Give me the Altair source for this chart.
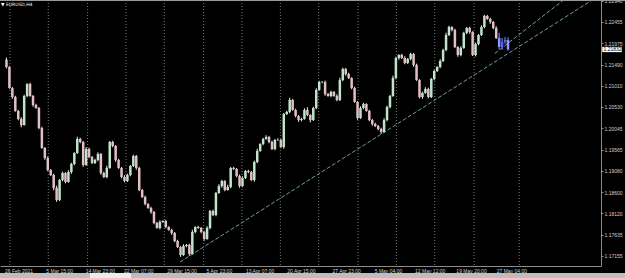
import altair as alt
import pandas as pd

SYMBOL = "\u25bc EURUSD,H4"

first_open = 1.21600
close = [
    1.21435, 1.20960, 1.20756, 1.20439, 1.20258, 1.20122, 1.20779, 1.21050, 1.20779, 1.20575,
    1.20507, 1.20054, 1.19601, 1.19374, 1.19103, 1.18989, 1.18695, 1.18423, 1.18876, 1.19035,
    1.18831, 1.19057, 1.19238, 1.19487, 1.19805, 1.19737, 1.19216, 1.19578, 1.19397, 1.19261,
    1.19329, 1.19465, 1.19035, 1.18944, 1.19148, 1.19737, 1.19646, 1.19329, 1.19148, 1.18944,
    1.18853, 1.18989, 1.19193, 1.19420, 1.19148, 1.18650, 1.18491, 1.18332, 1.18242, 1.18151,
    1.17902, 1.17789, 1.17925, 1.17947, 1.17811, 1.17744, 1.17676, 1.17494, 1.17358, 1.17177,
    1.17381, 1.17404, 1.17200, 1.17698, 1.17811, 1.17789, 1.17698, 1.17540, 1.17789, 1.18174,
    1.18083, 1.18582, 1.18740, 1.18853, 1.18650, 1.18717, 1.19148, 1.19125, 1.18967, 1.18740,
    1.18921, 1.19080, 1.19057, 1.18876, 1.19284, 1.19533, 1.19691, 1.19805, 1.19850, 1.19737,
    1.19578, 1.19782, 1.19782, 1.19623, 1.20371, 1.20416, 1.20688, 1.20462, 1.20326, 1.20235,
    1.20258, 1.20462, 1.20348, 1.20235, 1.20507, 1.20915, 1.21096, 1.21096, 1.20824, 1.20779,
    1.20869, 1.20779, 1.20688, 1.21141, 1.21390, 1.21277, 1.21186, 1.20960, 1.20643, 1.20280,
    1.20507, 1.20597, 1.20439, 1.20235, 1.20144, 1.20099, 1.20031, 1.19963, 1.20235, 1.20529,
    1.20779, 1.21186, 1.21639, 1.21707, 1.21639, 1.21526, 1.21617, 1.21730, 1.21481, 1.21141,
    1.20756, 1.20847, 1.20937, 1.20756, 1.21164, 1.21345, 1.21435, 1.21571, 1.21821, 1.22160,
    1.22341, 1.22274, 1.21888, 1.21707, 1.21866, 1.22206, 1.22319, 1.22228, 1.21707, 1.21956,
    1.22160, 1.22341, 1.22591, 1.22523, 1.22455, 1.22319, 1.22092, 1.21888, 1.22002, 1.22047,
    1.21832,
]
wick_up_pips = [
    5, 3, 2, 3, 2, 4, 3, 2, 3, 2,
    3, 2, 3, 2, 4, 2, 3, 5, 2, 3,
    2, 4, 3, 2, 5, 3, 2, 4, 3, 2,
    3, 4, 2, 3, 5, 2, 3, 2, 3, 2,
    4, 3, 2, 3, 2, 3, 2, 3, 2, 3,
    2, 3, 4, 2, 3, 2, 3, 2, 3, 2,
    4, 2, 3, 5, 2, 3, 2, 3, 4, 2,
    3, 2, 4, 3, 2, 5, 2, 3, 2, 3,
    4, 2, 3, 2, 3, 5, 2, 3, 4, 2,
    3, 2, 4, 3, 2, 3, 5, 2, 3, 2,
    3, 4, 6, 2, 3, 4, 3, 2, 3, 2,
    3, 2, 4, 5, 3, 2, 3, 2, 3, 2,
    4, 3, 2, 3, 2, 3, 2, 3, 4, 3,
    2, 5, 3, 2, 3, 4, 2, 3, 2, 3,
    2, 3, 4, 3, 2, 3, 2, 4, 3, 5,
    3, 2, 3, 2, 4, 3, 2, 3, 2, 3,
    2, 4, 3, 2, 3, 2, 4, 12, 9, 7,
    6,
]
wick_down_pips = [
    3, 2, 4, 2, 3, 5, 2, 3, 2, 4,
    2, 3, 2, 4, 3, 2, 5, 4, 2, 3,
    3, 2, 4, 3, 2, 3, 4, 2, 3, 2,
    2, 3, 4, 2, 3, 2, 3, 4, 2, 3,
    3, 2, 3, 2, 4, 3, 2, 3, 2, 4,
    3, 2, 3, 2, 3, 2, 4, 3, 2, 4,
    2, 3, 4, 2, 3, 2, 3, 4, 2, 3,
    2, 3, 2, 4, 3, 2, 3, 2, 3, 4,
    3, 2, 3, 2, 4, 3, 2, 3, 2, 3,
    2, 3, 2, 3, 4, 2, 3, 2, 3, 4,
    3, 2, 3, 5, 2, 3, 2, 3, 4, 2,
    3, 2, 3, 2, 3, 4, 2, 3, 2, 4,
    2, 3, 2, 3, 4, 2, 3, 4, 2, 3,
    3, 2, 3, 4, 2, 3, 2, 3, 4, 2,
    3, 4, 2, 3, 2, 3, 2, 3, 2, 3,
    2, 3, 2, 4, 3, 2, 3, 4, 2, 3,
    3, 2, 3, 2, 4, 3, 2, 5, 6, 4,
    3,
]
group = ["main"] * 167 + ["blue"] * 4

price_ticks = [1.22940, 1.22455, 1.21975, 1.21490, 1.21010, 1.20530, 1.20045,
               1.19565, 1.19080, 1.18600, 1.18120, 1.17635, 1.17155]
time_labels = ["26 Feb 2021", "5 Mar 15:00", "14 Mar 23:00", "22 Mar 07:00",
               "29 Mar 15:00", "5 Apr 23:00", "13 Apr 07:00", "20 Apr 15:00",
               "27 Apr 23:00", "5 May 04:00", "12 May 12:00", "19 May 20:00",
               "27 May 04:00"]
time_label_bar = [-0.5, 13.5, 26.83, 39.83, 54.5, 67.83, 81.17, 95.17,
                  110.5, 124.83, 138.5, 152.5, 166.17]
grid_bar = [1.17, 14.17, 27.5, 40.5, 53.5, 66.83, 79.83, 92.83,
            105.83, 119.17, 132.17, 145.17, 158.5, 173.83]
last_price = 1.21832
trend_a_bar = [58.83, 199.83]
trend_a_price = [1.17019, 1.23007]
trend_b_bar = [165.5, 188.83]
trend_b_price = [1.21740, 1.22953]

# ---- build tables ----
n = len(close)
opens = [first_open] + close[:-1]
rows = []
for i in range(n):
    o, c = opens[i], close[i]
    d = "up" if c >= o else "down"
    rows.append(dict(
        bar=i, open=o, close=c,
        high=max(o, c) + wick_up_pips[i] * 0.0001,
        low=min(o, c) - wick_down_pips[i] * 0.0001,
        body=d if group[i] == "main" else "blue_" + d,
        grp=group[i],
    ))
df = pd.DataFrame(rows)
label_df = pd.DataFrame({"bar": time_label_bar, "label": time_labels})
grid_df = pd.DataFrame({"bar": grid_bar})
trend_df = pd.DataFrame({
    "bar": trend_a_bar + trend_b_bar,
    "price": trend_a_price + trend_b_price,
    "line": ["a", "a", "b", "b"],
})
last_df = pd.DataFrame({"price": [last_price], "txt": [f"{last_price:.5f}"]})
one = pd.DataFrame({"t": [SYMBOL]})

FONT = "Liberation Sans"
LBL = "#cfcfcf"
FRAME = "#8c8c8c"
xs = alt.Scale(domain=[-0.5, 199.83], nice=False, zero=False)
ys = alt.Scale(domain=[1.16928, 1.22953], nice=False, zero=False)
X_AX = alt.Axis(labels=False, ticks=False, grid=False, title=None,
                domainColor=FRAME, domainWidth=1)
Y_AX = alt.Axis(orient="right", values=price_ticks, format=".5f", title=None, grid=False,
                labelFont=FONT, labelFontSize=5, labelColor=LBL, domainColor=FRAME,
                domainWidth=1, tickColor=FRAME, tickSize=2, labelPadding=1)


def X(field):
    return alt.X(field, scale=xs, axis=X_AX)


def Y(field):
    return alt.Y(field, scale=ys, axis=Y_AX)


wicks = alt.Chart(df).mark_rule(strokeWidth=1.1).encode(
    x=X("bar:Q"),
    y=Y("low:Q"),
    y2="high:Q",
    color=alt.Color("grp:N", scale=alt.Scale(domain=["main", "blue"], range=["#e4e4e4", "#7a82ff"]),
                    legend=None),
)

bodies = alt.Chart(df).mark_bar(width=2.5).encode(
    x=X("bar:Q"),
    y=Y("open:Q"),
    y2="close:Q",
    color=alt.Color("body:N", scale=alt.Scale(domain=["up", "down", "blue_up", "blue_down"],
                                              range=["#bfe3cb", "#e3bfc4", "#5562ff", "#8f96ff"]),
                    legend=None),
)

grid = alt.Chart(grid_df).mark_rule(strokeDash=[1, 2], color="#7a7a7a", strokeWidth=1).encode(
    x=X("bar:Q"),
)

xlabels = alt.Chart(label_df).mark_text(align="left", baseline="middle", font=FONT,
                                        fontSize=5, color=LBL).encode(
    x=X("bar:Q"),
    y=alt.value(270.5),
    text="label:N",
)

trend = alt.Chart(trend_df).mark_line(strokeDash=[4, 2], color="#6f9f98", strokeWidth=1,
                                       clip=True).encode(
    x=X("bar:Q"),
    y=Y("price:Q"),
    detail="line:N",
)

last_box = alt.Chart(last_df).mark_point(shape="M-1,-0.27H1V0.27H-1Z", filled=True, fill="white",
                                         opacity=1, size=380, strokeWidth=0).encode(
    x=alt.value(612),
    y=Y("price:Q"),
)
last_txt = alt.Chart(last_df).mark_text(align="left", baseline="middle", font=FONT, fontSize=5,
                                        color="black").encode(
    x=alt.value(603.5),
    y=Y("price:Q"),
    text="txt:N",
)

top_line = alt.Chart(one).mark_rule(color="#9a9a9a", strokeWidth=1).encode(
    x=alt.value(0), x2=alt.value(625), y=alt.value(0.5),
)
title_txt = alt.Chart(one).mark_text(align="left", baseline="middle", font="DejaVu Sans",
                                     fontSize=4.5, color="white").encode(
    x=alt.value(1), y=alt.value(4.5), text="t:N",
)
bottom_band = alt.Chart(one).mark_rect(color="#bdbdbd").encode(
    x=alt.value(0), x2=alt.value(625), y=alt.value(273), y2=alt.value(278),
)
tab = alt.Chart(one).mark_rect(color="#ececec").encode(
    x=alt.value(90), x2=alt.value(131), y=alt.value(273), y2=alt.value(278),
)

chart = alt.layer(
    wicks, grid, trend, bodies, xlabels, last_box, last_txt, top_line, title_txt, bottom_band, tab
).resolve_scale(color="independent").properties(
    width=601, height=266,
    padding={"left": 0, "top": 0, "right": 24, "bottom": 12},
    autosize=alt.AutoSizeParams(type="none"),
    background="black",
).configure_view(stroke=None)

chart.save("out.html", embed_options={"renderer": "svg", "actions": False})
